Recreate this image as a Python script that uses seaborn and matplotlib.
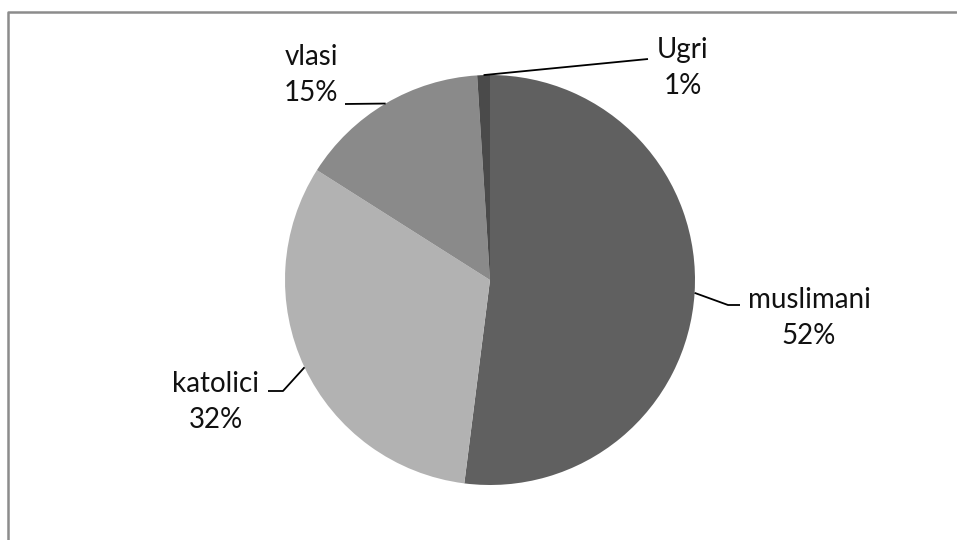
import matplotlib.pyplot as plt
import numpy as np
import seaborn as sns

# data
groups = ["muslimani", "katolici", "vlasi", "Ugri"]
shares = [52, 32, 15, 1]
colors = ["#606060", "#b2b2b2", "#8a8a8a", "#4a4a4a"]

sns.set_theme(style="white")
plt.rcParams["font.family"] = ["Lato", "DejaVu Sans"]

W, H = 957, 540
fig = plt.figure(figsize=(W / 100, H / 100), dpi=100)
ax = fig.add_axes([0, 0, 1, 1])

# pie in pixel-like coordinates (y up)
cx, cy, r = 490, H - 280, 205
wedges, _ = ax.pie(
    shares,
    colors=colors,
    startangle=90,
    counterclock=False,
    center=(cx, cy),
    radius=r,
    wedgeprops=dict(linewidth=0),
    frame=True,
)
ax.set_xlim(0, W)
ax.set_ylim(0, H)
ax.set_aspect("equal")
ax.axis("off")

# label block centres and leader path (elbow, end) in image pixels
label_pos = {
    "muslimani": ((809, 318), [(728, 305), (740, 305)]),
    "katolici": ((216, 402), [(283, 391), (268, 391)]),
    "vlasi": ((311, 75), [(345, 104)]),
    "Ugri": ((683, 68), [(648, 59)]),
}

for w, name, share in zip(wedges, groups, shares):
    mid = np.deg2rad((w.theta1 + w.theta2) / 2)
    ax_x = cx + r * np.cos(mid)
    ax_y = cy + r * np.sin(mid)
    (tx, ty), path = label_pos[name]
    xs = [ax_x] + [p[0] for p in path]
    ys = [ax_y] + [H - p[1] for p in path]
    ax.plot(xs, ys, color="black", lw=1.3, solid_capstyle="butt")
    ax.text(
        tx, H - ty, "{}\n{}%".format(name, share),
        ha="center", va="center", fontsize=20, linespacing=1.45, color="#111111",
    )

# chart frame (only top/left visible in the crop)
ax.plot([8, 8, 956], [0, H - 12, H - 12], color="#8c8c8c", lw=1.8, clip_on=False)

fig.savefig("out.png", dpi=100)
